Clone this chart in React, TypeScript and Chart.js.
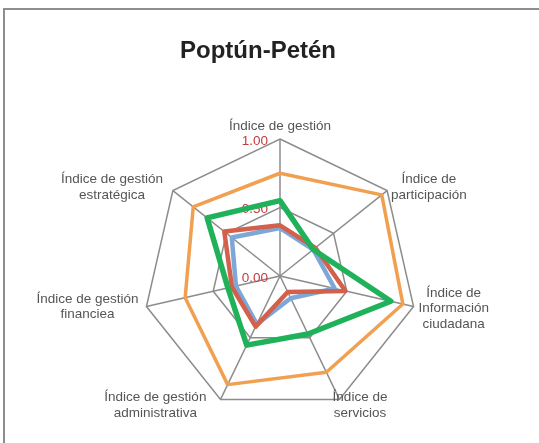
import React, { useEffect, useRef } from "react";
import { Chart, registerables } from "chart.js";

Chart.register(...registerables);

const title = "Poptún-Petén";
const categories: string[][] = [
  ["Índice de gestión"],
  ["Índice de", "participación"],
  ["Índice de", "Información", "ciudadana"],
  ["Índice de", "servicios"],
  ["Índice de gestión", "administrativa"],
  ["Índice de gestión", "financiea"],
  ["Índice de gestión", "estratégica"],
];
const seriesOrange = [0.75, 0.95, 0.92, 0.78, 0.88, 0.71, 0.81];
const seriesGreen = [0.55, 0.31, 0.83, 0.47, 0.56, 0.39, 0.68];
const seriesRed = [0.37, 0.33, 0.49, 0.13, 0.41, 0.36, 0.52];
const seriesBlue = [0.35, 0.31, 0.41, 0.18, 0.39, 0.33, 0.45];
const tickValues = [0, 0.5, 1];

const LABEL_FONT = '13.5px "Liberation Sans", Arial, sans-serif';
const LINE_H = 15.5;
// small layout nudges for the point labels (dx, dy)
const labelNudge: [number, number][] = [
  [0, 0],
  [0, 0],
  [0, 1],
  [-9, 1.5],
  [-12, 1.5],
  [-3, -1],
  [-6, 0],
];

const labelsPlugin = {
  id: "customLabels",
  beforeDatasetsDraw(chart: any) {
    const scale = chart.scales.r;
    const ctx = chart.ctx;
    ctx.save();
    ctx.font = LABEL_FONT;
    ctx.fillStyle = "#c8393c";
    ctx.textAlign = "right";
    ctx.textBaseline = "middle";
    tickValues.forEach((v) => {
      const d = scale.getDistanceFromCenterForValue(v);
      ctx.fillText(v.toFixed(2), scale.xCenter - 12, scale.yCenter - d + 2);
    });
    ctx.restore();
  },
  afterDraw(chart: any) {
    const scale = chart.scales.r;
    const ctx = chart.ctx;
    ctx.save();
    ctx.font = LABEL_FONT;
    ctx.fillStyle = "#555555";
    ctx.textAlign = "center";
    ctx.textBaseline = "middle";
    categories.forEach((lines, i) => {
      const deg = (scale.getIndexAngle(i) * 180) / Math.PI;
      const p = scale.getPointPosition(i, scale.drawingArea + 5);
      const w = Math.max(...lines.map((l) => ctx.measureText(l).width));
      const h = lines.length * LINE_H;
      let cx = p.x;
      let cy = p.y;
      if (Math.abs(deg) < 1 || Math.abs(deg - 360) < 1) {
        cy = p.y - h / 2;
      } else if (Math.abs(deg - 180) < 1) {
        cy = p.y + h / 2;
      } else if (deg < 180) {
        cx = p.x + w / 2;
      } else {
        cx = p.x - w / 2;
      }
      cx += labelNudge[i][0];
      cy += labelNudge[i][1];
      lines.forEach((l, k) => {
        ctx.fillText(l, cx, cy - h / 2 + LINE_H / 2 + k * LINE_H);
      });
    });
    ctx.restore();
  },
};

export default function App() {
  const ref = useRef<HTMLCanvasElement | null>(null);
  useEffect(() => {
    if (!ref.current) return;
    const mk = (data: number[], color: string, width: number) => ({
      data,
      borderColor: color,
      backgroundColor: color,
      borderWidth: width,
      pointRadius: 0,
      pointHoverRadius: 0,
      fill: false,
      tension: 0,
      borderJoinStyle: "round" as const,
    });
    const chart = new Chart(ref.current, {
      type: "radar",
      data: {
        labels: categories.map((c) => c.join(" ")),
        datasets: [
          mk(seriesGreen, "#1fb25a", 5.5),
          mk(seriesRed, "#d3604a", 4.5),
          mk(seriesBlue, "#7ea7d9", 4.5),
          mk(seriesOrange, "#f0a050", 3.5),
        ],
      },
      options: {
        animation: false,
        responsive: false,
        devicePixelRatio: 1,
        layout: { padding: { left: 143, right: 122, top: 139, bottom: 30 } },
        plugins: {
          legend: { display: false },
          title: { display: false },
          tooltip: { enabled: false },
        },
        scales: {
          r: {
            min: 0,
            max: 1,
            ticks: { display: false, stepSize: 0.5 },
            pointLabels: { display: false },
            grid: { color: "#8c8c8c", lineWidth: 1.5 },
            angleLines: { color: "#8c8c8c", lineWidth: 1.5 },
          },
        },
      },
      plugins: [labelsPlugin],
    });
    return () => chart.destroy();
  }, []);

  return (
    <div>
      <div
        style={{
          position: "fixed",
          left: 3,
          top: 8,
          width: 700,
          height: 600,
          border: "2px solid #8e8e8e",
          boxSizing: "border-box",
        }}
      />
      <canvas
        ref={ref}
        width={539}
        height={443}
        style={{ position: "fixed", left: 0, top: 0, width: 539, height: 443 }}
      />
      <div
        style={{
          position: "fixed",
          left: 0,
          top: 36,
          width: 516,
          textAlign: "center",
          font: 'bold 24px "Liberation Sans", Arial, sans-serif',
          lineHeight: "28px",
          color: "#222",
        }}
      >
        {title}
      </div>
    </div>
  );
}
